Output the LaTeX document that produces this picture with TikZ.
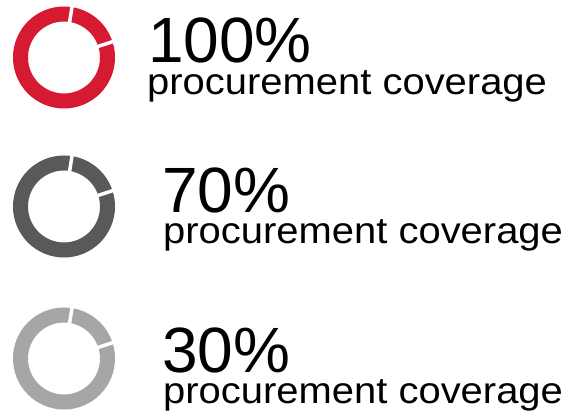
\documentclass[tikz,border=0pt]{standalone}
\usepackage{fontspec}
\setmainfont{Liberation Sans}
\newfontfamily\capfont[FakeStretch=1.08]{Liberation Sans}
\definecolor{ringred}{RGB}{214,26,50}
\definecolor{ringdark}{RGB}{89,89,89}
\definecolor{ringlight}{RGB}{166,166,166}
\tikzset{
  ring/.style={circle, draw=#1, line width=15pt, minimum size=87pt, inner sep=0pt},
  gapline/.style={white, line width=3.5pt},
  bignum/.style={anchor=base west, inner sep=0pt, text depth=0pt, font=\fontsize{64}{64}\selectfont},
  caption/.style={anchor=base west, inner sep=0pt, text height=0.55em, font=\capfont\fontsize{37}{38}\selectfont}
}
\begin{document}
\begin{tikzpicture}[x=1pt,y=1pt]
\useasboundingbox (0,0) rectangle (565,411);
% rings
\node[ring=ringred] (r1) at (64,353.5) {};
\node[ring=ringdark] (r2) at (64,204.5) {};
\node[ring=ringlight] (r3) at (64,52.5) {};
\foreach \r in {r1,r2,r3}{
  \draw[gapline] (\r.center) ++(81:34) -- ++(81:19);
  \draw[gapline] (\r.center) ++(18:34) -- ++(18:19);
}
% texts
\node[bignum] (n1) at (148,348) {100\%};
\node[caption] (c1) at (147,316.5) {procurement coverage};
\node[bignum] (n2) at (162,198) {70\%};
\node[caption] (c2) at (163,167.5) {procurement coverage};
\node[bignum] (n3) at (162,38) {30\%};
\node[caption] (c3) at (163,7.5) {procurement coverage};
\end{tikzpicture}
\end{document}
